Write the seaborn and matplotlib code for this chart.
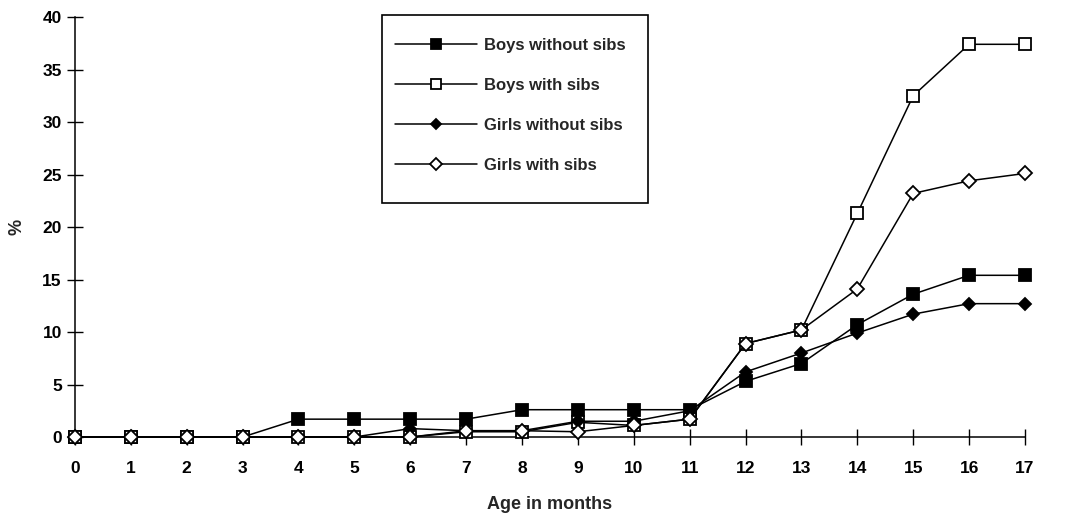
import pandas as pd
import matplotlib
matplotlib.use("Agg")
import matplotlib.pyplot as plt
import matplotlib.patches as mpatches
import seaborn as sns

months = list(range(18))
boys_without = [0, 0, 0, 0, 1.7, 1.7, 1.7, 1.7, 2.6, 2.6, 2.6, 2.6, 5.3, 7.0, 10.7, 13.6, 15.4, 15.4]
boys_with = [0, 0, 0, 0, 0, 0, 0, 0.5, 0.5, 1.4, 1.1, 1.7, 8.9, 10.2, 21.3, 32.5, 37.4, 37.4]
girls_without = [0, 0, 0, 0, 0, 0, 0.8, 0.6, 0.6, 1.5, 1.5, 2.5, 6.2, 8.0, 9.9, 11.7, 12.7, 12.7]
girls_with = [0, 0, 0, 0, 0, 0, 0, 0.6, 0.6, 0.5, 1.1, 1.7, 8.9, 10.2, 14.1, 23.2, 24.4, 25.1]

series = {
    "Boys without sibs": boys_without,
    "Boys with sibs": boys_with,
    "Girls without sibs": girls_without,
    "Girls with sibs": girls_with,
}
styles = {
    "Boys without sibs": dict(marker="s", markerfacecolor="black", markersize=8),
    "Boys with sibs": dict(marker="s", markerfacecolor="white", markersize=8.5),
    "Girls without sibs": dict(marker="D", markerfacecolor="black", markersize=6),
    "Girls with sibs": dict(marker="D", markerfacecolor="white", markersize=7),
}

df = pd.DataFrame({"Age": months, **series})
long = df.melt(id_vars="Age", var_name="group", value_name="pct")

sns.set_style("ticks")
plt.rcParams["font.family"] = ["Liberation Sans", "DejaVu Sans"]
plt.rcParams["font.weight"] = "bold"

W, H = 1068, 520
fig = plt.figure(figsize=(W / 100, H / 100), dpi=100)
ax = fig.add_axes([0.0702, 0.1596, 0.8895, 0.8077])

for name in series:
    sub = long[long["group"] == name]
    sns.lineplot(data=sub, x="Age", y="pct", ax=ax, color="black", linewidth=1.1,
                 markeredgecolor="black", markeredgewidth=1.3, label=name,
                 clip_on=False, zorder=3, **styles[name])

ax.set_xlim(0, 17)
ax.set_ylim(0, 40)
ax.set_xticks(months)
ax.set_yticks(range(0, 41, 5))
ax.tick_params(direction="inout", length=11, width=1, labelsize=12.5, colors="black")
ax.tick_params(axis="x", pad=12)
ax.tick_params(axis="y", pad=4)
for s in ["top", "right"]:
    ax.spines[s].set_visible(False)
for s in ["left", "bottom"]:
    ax.spines[s].set_linewidth(1.1)
    ax.spines[s].set_color("black")

ax.set_xlabel("Age in months", fontsize=13, fontweight="bold", labelpad=14)
ax.set_ylabel("%", fontsize=13, fontweight="bold", labelpad=12)

# legend entries without frame, box drawn separately (box is taller than the entries need)
leg = ax.legend(loc="upper left", bbox_to_anchor=(395 / W, 1 - 38 / H), bbox_transform=fig.transFigure,
                borderaxespad=0, borderpad=0, frameon=False, handlelength=4.9, markerscale=0.85,
                labelspacing=1.5, handletextpad=0.45, prop={"size": 12, "weight": "bold"})
box = mpatches.Rectangle((382 / W, 1 - 203 / H), 266 / W, 188 / H, transform=fig.transFigure,
                         fill=False, edgecolor="black", linewidth=1.2)
fig.add_artist(box)

fig.savefig("out.png", dpi=100)
